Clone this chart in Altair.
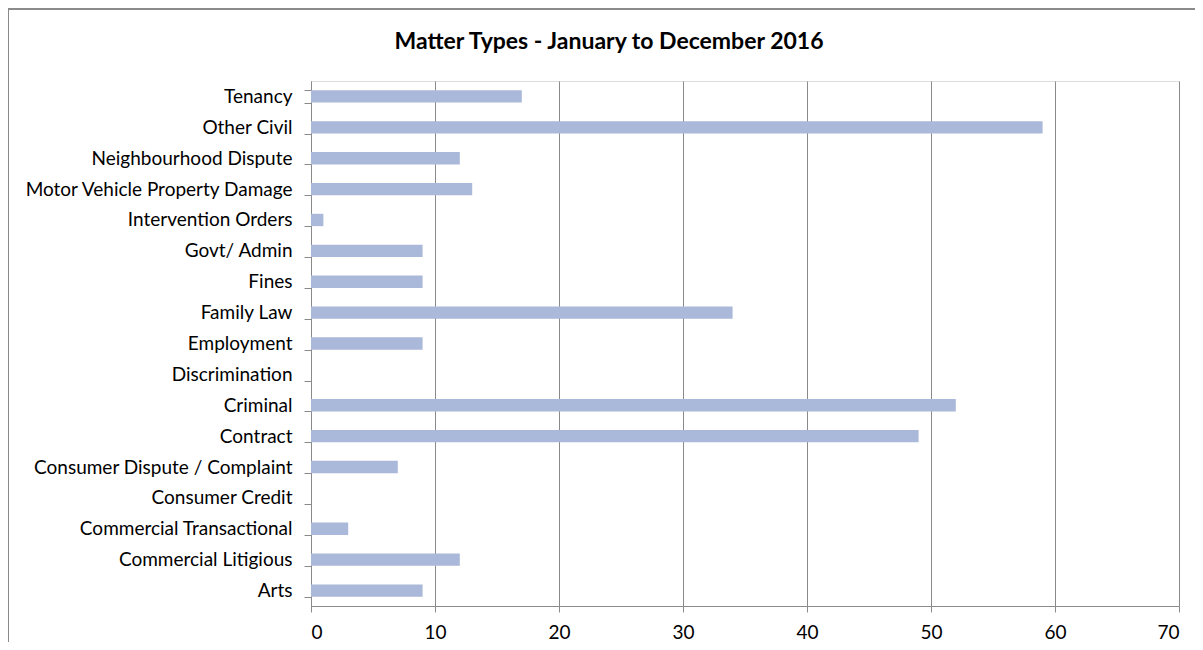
import altair as alt
import pandas as pd

categories = ["Tenancy", "Other Civil", "Neighbourhood Dispute", "Motor Vehicle Property Damage",
              "Intervention Orders", "Govt/ Admin", "Fines", "Family Law", "Employment",
              "Discrimination", "Criminal", "Contract", "Consumer Dispute / Complaint",
              "Consumer Credit", "Commercial Transactional", "Commercial Litigious", "Arts"]
counts = [17, 59, 12, 13, 1, 9, 9, 34, 9, 0, 52, 49, 7, 0, 3, 12, 9]
x_ticks = [0, 10, 20, 30, 40, 50, 60, 70]

df = pd.DataFrame({"category": categories, "count": counts})

FONT = "Lato"
GRID = "#8a8a8a"

bars = alt.Chart(df).mark_bar(color="#aab9d9").encode(
    y=alt.Y("category:N", sort=categories,
            scale=alt.Scale(paddingInner=0.6, paddingOuter=0.3),
            axis=alt.Axis(title=None, tickBand="extent", tickSize=7, tickColor=GRID,
                          domainColor=GRID, labelFont=FONT, labelFontSize=19,
                          labelColor="black", labelPadding=12, grid=False, labelLimit=400)),
    x=alt.X("count:Q", scale=alt.Scale(domain=[0, 70], nice=False),
            axis=alt.Axis(title=None, values=x_ticks, tickSize=6, tickColor=GRID,
                          domainColor=GRID, gridColor=GRID, gridOpacity=1, gridWidth=1,
                          labelFont=FONT, labelFontSize=19, labelColor="black",
                          labelPadding=11)),
)

frame = alt.Chart(df).mark_rect(fill=None, stroke="#8a8a8a", strokeWidth=1).encode(
    x=alt.value(-303), x2=alt.value(1000), y=alt.value(-72), y2=alt.value(700)
)

chart = alt.layer(frame, bars).properties(
    width=868, height=525,
    autosize=alt.AutoSizeParams(type="none"),
    padding={"left": 303, "top": 73, "right": 16, "bottom": 36},
    title=alt.TitleParams("Matter Types - January to December 2016", font=FONT, fontSize=23,
                          fontWeight="bold", color="black", anchor="middle", frame="group",
                          baseline="alphabetic", dx=-136, dy=63, offset=0),
).configure_view(stroke=None).configure(background="white")

chart.save("out.html", embed_options={"renderer": "svg", "actions": False})
